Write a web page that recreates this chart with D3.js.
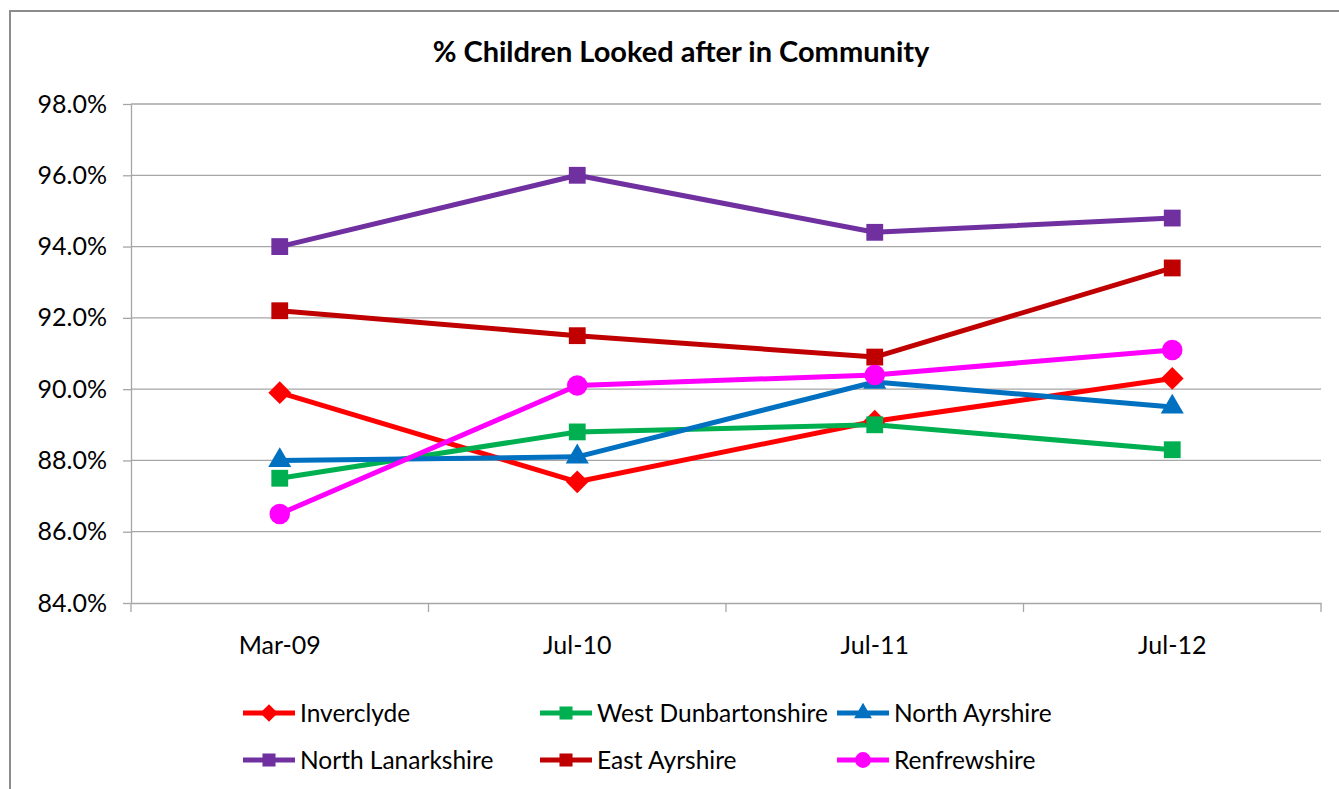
<!DOCTYPE html>
<html>
<head>
<meta charset="utf-8">
<script src="https://cdn.jsdelivr.net/npm/d3@7"></script>
<style>
  body { margin: 0; background: #fff; }
  text { font-family: Lato, "Open Sans", sans-serif; fill: #000; }
</style>
</head>
<body>
<svg width="1339" height="789"></svg>
<script>
// Data
const categories = ["Mar-09", "Jul-10", "Jul-11", "Jul-12"];
const seriesNames = ["Inverclyde", "West Dunbartonshire", "North Ayrshire",
                     "North Lanarkshire", "East Ayrshire", "Renfrewshire"];
const inverclyde = [89.9, 87.4, 89.1, 90.3];
const westDunbartonshire = [87.5, 88.8, 89.0, 88.3];
const northAyrshire = [88.0, 88.1, 90.2, 89.5];
const northLanarkshire = [94.0, 96.0, 94.4, 94.8];
const eastAyrshire = [92.2, 91.5, 90.9, 93.4];
const renfrewshire = [86.5, 90.1, 90.4, 91.1];
const yTicks = [84, 86, 88, 90, 92, 94, 96, 98];

const seriesValues = [inverclyde, westDunbartonshire, northAyrshire,
                      northLanarkshire, eastAyrshire, renfrewshire];
const colors = ["#ff0000", "#00b050", "#0070c0", "#7030a0", "#c00000", "#ff00ff"];
const symbols = [d3.symbolDiamond2, d3.symbolSquare2, d3.symbolTriangle2,
                 d3.symbolSquare2, d3.symbolSquare2, d3.symbolCircle];
const symSizes = [330, 360, 380, 360, 360, 330];

const series = seriesNames.map((name, i) => ({
    name: name, values: seriesValues[i], color: colors[i],
    symbol: symbols[i], size: symSizes[i]
}));

const svg = d3.select("svg");

// Outer frame (chart area border)
svg.append("rect")
    .attr("x", 10).attr("y", 11)
    .attr("width", 1400).attr("height", 900)
    .attr("fill", "none")
    .attr("stroke", "#8c8c8c")
    .attr("stroke-width", 2);

const plotLeft = 131, plotRight = 1321, plotTop = 104, plotBottom = 603;

// Scales
const xScale = d3.scaleBand()
    .domain(categories)
    .range([plotLeft, plotRight]);

const yScale = d3.scaleLinear()
    .domain([84, 98])
    .range([plotBottom, plotTop]);

// Title
svg.append("text")
    .attr("x", 681).attr("y", 62)
    .attr("text-anchor", "middle")
    .attr("font-size", 29)
    .attr("font-weight", "bold")
    .text("% Children Looked after in Community");

// Gridlines
svg.append("g")
    .selectAll("line")
    .data(yTicks.slice(1))
    .enter()
    .append("line")
    .attr("x1", plotLeft).attr("x2", plotRight)
    .attr("y1", d => yScale(d)).attr("y2", d => yScale(d))
    .attr("stroke", "#a6a6a6")
    .attr("stroke-width", 1.3);

// Y axis
const yAxis = svg.append("g")
    .attr("transform", `translate(${plotLeft}, 0)`)
    .call(d3.axisLeft(yScale).tickValues(yTicks)
        .tickFormat(d => d.toFixed(1) + "%")
        .tickSizeInner(8).tickSizeOuter(0).tickPadding(16));
yAxis.select(".domain").attr("stroke", "#a6a6a6").attr("stroke-width", 1.3);
yAxis.selectAll(".tick line").attr("stroke", "#a6a6a6").attr("stroke-width", 1.3);
yAxis.selectAll(".tick text").attr("font-size", 25)
    .style("font-family", "Lato, sans-serif").attr("fill", "#000");

// X axis
const xAxis = svg.append("g")
    .attr("transform", `translate(0, ${plotBottom})`)
    .call(d3.axisBottom(xScale).tickSize(0).tickPadding(33));
xAxis.select(".domain").attr("stroke", "#a6a6a6").attr("stroke-width", 1.3);
xAxis.selectAll(".tick text").attr("font-size", 25)
    .style("font-family", "Lato, sans-serif").attr("fill", "#000");

// tick marks between categories
const bounds = categories.map(c => xScale(c)).concat([plotRight]);
xAxis.selectAll(".sep")
    .data(bounds)
    .enter()
    .append("line")
    .attr("x1", d => d).attr("x2", d => d)
    .attr("y1", 0).attr("y2", 9)
    .attr("stroke", "#a6a6a6")
    .attr("stroke-width", 1.3);

const cx = c => xScale(c) + xScale.bandwidth() / 2;

const line = d3.line()
    .x((d, i) => cx(categories[i]))
    .y(d => yScale(d));

// Lines
svg.append("g")
    .selectAll("path")
    .data(series)
    .enter()
    .append("path")
    .attr("d", d => line(d.values))
    .attr("fill", "none")
    .attr("stroke", d => d.color)
    .attr("stroke-width", 5)
    .attr("stroke-linejoin", "round");

// Markers
series.forEach(s => {
    svg.append("g")
        .selectAll("path")
        .data(s.values)
        .enter()
        .append("path")
        .attr("transform", (d, i) => `translate(${cx(categories[i])}, ${yScale(d)})`)
        .attr("d", d3.symbol().type(s.symbol).size(s.size))
        .attr("fill", s.color);
});

// Legend
const legend = svg.append("g");
series.forEach((s, i) => {
    const col = i % 3, row = Math.floor(i / 3);
    const lx = 243 + col * 297, ly = 713 + row * 47;
    const g = legend.append("g").attr("transform", `translate(${lx}, ${ly})`);
    g.append("line")
        .attr("x1", 0).attr("x2", 52)
        .attr("stroke", s.color)
        .attr("stroke-width", 5);
    g.append("path")
        .attr("transform", "translate(26, 0)")
        .attr("d", d3.symbol().type(s.symbol).size(s.size * 0.6))
        .attr("fill", s.color);
    g.append("text")
        .attr("x", 57).attr("y", 9)
        .attr("font-size", 24.5)
        .text(s.name);
});
</script>
</body>
</html>
